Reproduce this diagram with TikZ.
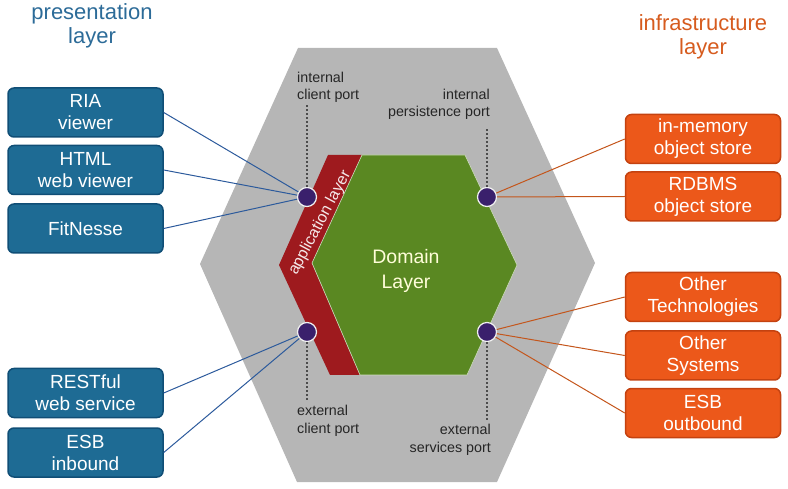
\documentclass[tikz,border=0pt]{standalone}
\usepackage{fontspec}
\setmainfont{Liberation Sans}
\usetikzlibrary{positioning}
\definecolor{hexgray}{RGB}{182,182,182}
\definecolor{domaingreen}{RGB}{90,136,34}
\definecolor{appred}{RGB}{158,26,30}
\definecolor{presblue}{RGB}{30,107,148}
\definecolor{presborder}{RGB}{16,78,118}
\definecolor{infraorange}{RGB}{236,88,26}
\definecolor{infraborder}{RGB}{196,66,16}
\definecolor{portpurple}{RGB}{58,32,108}
\definecolor{blueline}{RGB}{44,90,156}
\definecolor{orangeline}{RGB}{196,86,28}
\definecolor{titleblue}{RGB}{44,107,152}
\definecolor{titleorange}{RGB}{214,91,30}
\tikzset{
box/.style={ % Sets the properties for each outer box
rounded corners=6pt,
minimum width=155pt,
minimum height=49pt,
align=center,
text=white,
line width=1.5pt,
font=\fontsize{19}{22}\selectfont},
presbox/.style={box, fill=presblue, draw=presborder},
infbox/.style={box, fill=infraorange, draw=infraborder},
port/.style={ % Round ports on the hexagon
circle,
fill=portpurple,
draw=white!88!gray,
line width=1.2pt,
minimum size=19pt,
inner sep=0pt},
portlabel/.style={inner sep=0pt, text=black!85, font=\fontsize{14.3}{17.5}\selectfont},
portline/.style={draw=black!70, line width=1.6pt, dash pattern=on 2pt off 2pt},
title/.style={align=center, font=\fontsize{22}{24}\selectfont},
every edge/.style={ % Sets the properties for each connector
draw,
line width=1pt}}
\begin{document}
\begin{tikzpicture}[x=1pt,y=-1pt]
	\useasboundingbox (0,0) rectangle (788,489);
	\fill[hexgray] (298,48) -- (497,48) -- (595,263) -- (497,482) -- (297,482) -- (200,264) -- cycle;
	\fill[appred] (328,155) -- (362,155) -- (312,263) -- (360,375) -- (330,375) -- (279,265) -- cycle;
	\filldraw[fill=domaingreen, draw=white!70!domaingreen, line width=0.6pt] (362,155) -- (465,155) -- (517,265) -- (467,375) -- (360,375) -- (312,263) -- cycle;
	\node[align=center, text=white!85!yellow, font=\fontsize{19.5}{25.5}\selectfont] (domain) at (406,271) {Domain\\Layer};
	\node[rotate=62, text=white!90!appred, font=\fontsize{16}{18}\selectfont] (app) at (320,223) {application layer};
	\node[title, text=titleblue] (prestitle) at (92,26) {presentation\\layer};
	\node[title, text=titleorange] (infratitle) at (703,37) {infrastructure\\layer};
	\node[port] (icp) at (307,197) {};
	\node[port] (ecp) at (307,332) {};
	\node[port] (ipp) at (487,197) {};
	\node[port] (esp) at (487,332) {};
	\node[portlabel, align=left, anchor=south west] (icplabel) at (297,103) {internal\\client port};
	\node[portlabel, align=right, anchor=south east] (ipplabel) at (490,120) {internal\\persistence port};
	\node[portlabel, align=left, anchor=north west] (ecplabel) at (297,405) {external\\client port};
	\node[portlabel, align=right, anchor=north east] (esplabel) at (491,424) {external\\services port};
	\coordinate (icptop) at (307,105);
	\coordinate (ipptop) at (487,127);
	\coordinate (ecpbot) at (307,402);
	\coordinate (espbot) at (487,422);
	\draw[portline] (icp) -- (icptop);
	\draw[portline] (ipp) -- (ipptop);
	\draw[portline] (ecp) -- (ecpbot);
	\draw[portline] (esp) -- (espbot);
	\node[presbox] (ria) at (85.5,112.5) {RIA\\viewer};
	\node[presbox] (html) at (85.5,170) {HTML\\web viewer};
	\node[presbox] (fitnesse) at (85.5,228.5) {FitNesse};
	\node[presbox] (rest) at (85.5,393) {RESTful\\web service};
	\node[presbox] (esbin) at (85.5,452.5) {ESB\\inbound};
	\node[infbox] (inmem) at (703,139) {in-memory\\object store};
	\node[infbox] (rdbms) at (703,196.5) {RDBMS\\object store};
	\node[infbox] (othertech) at (703,297) {Other\\Technologies};
	\node[infbox] (othersys) at (703,355.5) {Other\\Systems};
	\node[infbox] (esbout) at (703,413) {ESB\\outbound};
	\draw[blueline] (ria.east) edge (icp);
	\draw[blueline] (html.east) edge (icp);
	\draw[blueline] (fitnesse.east) edge (icp);
	\draw[blueline] (rest.east) edge (ecp);
	\draw[blueline] (esbin.east) edge (ecp);
	\draw[orangeline] (inmem.west) edge (ipp);
	\draw[orangeline] (rdbms.west) edge (ipp);
	\draw[orangeline] (othertech.west) edge (esp);
	\draw[orangeline] (othersys.west) edge (esp);
	\draw[orangeline] (esbout.west) edge (esp);
\end{tikzpicture}
\end{document}
